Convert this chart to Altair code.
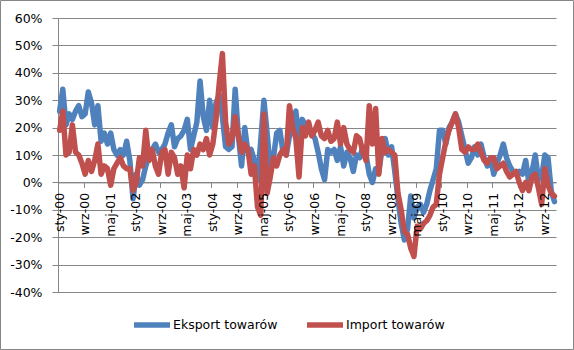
import altair as alt
import pandas as pd

# Monthly data, Jan 2000 (index 0) .. Dec 2012 (index 155), y/y change in %
EKSPORT = [
    26, 34, 21, 25, 23, 26, 28, 24, 25, 33, 29, 21,
    28, 15, 18, 14, 18, 12, 10, 12, 10, 15, 8, -6,
    3, -1, 1, 6, 10, 12, 14, 11, 12, 14, 18, 21,
    13, 16, 17, 19, 23, 12, 17, 22, 37, 24, 19, 30,
    20, 29, 32, 24, 13, 12, 13, 34, 17, 6, 20, 11,
    12, 8, 1, 15, 30, 18, 5, 9, 18, 19, 11, 10,
    17, 23, 26, 16, 23, 21, 19, 18, 16, 11, 5, 1,
    12, 11, 12, 8, 13, 6, 11, 9, 4, 10, 9, 13,
    10, 3, 0, 5, 4, 12, 16, 10, 13, 4, -6, -15,
    -21, -17, -5, -13, -9, -8, -11, -8, -3, 1, 5, 19,
    19, 14, 20, 22, 25, 22, 17, 12, 7, 9, 13, 10,
    14, 9, 6, 9, 3, 7, 10, 14, 9, 6, 4, 3,
    4, 3, 8, 0, 4, 10, 1, 2, 10, 9, -3, -7,
]
IMPORT = [
    19, 26, 10, 11, 21, 11, 10, 7, 3, 8, 4, 8,
    14, 3, 6, 5, -1, 5, 7, 9, 6, 5, 5, -3,
    0, 9, 6, 19, 8, 12, 6, 3, 11, 12, 3, 11,
    9, 3, 6, -2, 10, 5, 12, 10, 14, 12, 16, 10,
    14, 23, 36, 47, 22, 14, 16, 24, 17, 11, 14, 12,
    3, 6, -9, -12, 25, -4, 2, 9, 6, 10, 12, 10,
    28, 20, 16, 2, 20, 17, 22, 17, 19, 22, 17, 16,
    19, 15, 16, 22, 14, 20, 14, 12, 11, 17, 16, 11,
    8, 28, 14, 27, 3, 16, 11, 12, 11, 10, -4, -10,
    -18, -19, -24, -27, -16, -17, -15, -14, -12, -9, -8, 3,
    9, 15, 19, 22, 25, 20, 12, 11, 13, 12, 12, 14,
    11, 8, 7, 9, 9, 5, 6, 7, 4, 2, 3, 4,
    0, -3, 0, -3, 2, 3, -2, -8, 5, -1, -4, -5,
]
SERIES = ["Eksport towarów", "Import towarów"]
COLORS = ["#4F81BD", "#C0504D"]
TICK_LABELS = ["sty-00", "wrz-00", "maj-01", "sty-02", "wrz-02", "maj-03", "sty-04",
               "wrz-04", "maj-05", "sty-06", "wrz-06", "maj-07", "sty-08", "wrz-08",
               "maj-09", "sty-10", "wrz-10", "maj-11", "sty-12", "wrz-12"]
TICK_POS = [0, 8, 16, 24, 32, 40, 48, 56, 64, 72, 80, 88, 96, 104, 112, 120, 128, 136, 144, 152]
Y_TICKS = [-40, -30, -20, -10, 0, 10, 20, 30, 40, 50, 60]

N = len(EKSPORT)
rows = []
for s, vals in zip(SERIES, [EKSPORT, IMPORT]):
    for i, v in enumerate(vals):
        rows.append({"i": i, "v": v, "s": s})
df = pd.DataFrame(rows)
lab = pd.DataFrame({"p": TICK_POS, "t": TICK_LABELS})

FONT = "DejaVu Sans"
FS = 12.5
GRAY = "#868686"
W, H = 498, 274

xscale = alt.Scale(domain=[-0.5, N - 0.5], nice=False, zero=False)
yscale = alt.Scale(domain=[-40, 60], nice=False, zero=False)

xaxis = alt.Axis(values=[p - 0.5 for p in TICK_POS], labels=False, ticks=True, tickSize=5,
                 tickColor=GRAY, domainColor=GRAY, grid=False, title=None,
                 offset=-(H * 0.4))
yaxis = alt.Axis(values=Y_TICKS, labelExpr="datum.value + '%'", grid=True, gridColor=GRAY,
                 domainColor=GRAY, tickColor=GRAY, tickSize=6, labelPadding=10, title=None,
                 labelFont=FONT, labelFontSize=FS, labelColor="black", labelOverlap=False,
                 tickCount=11)

lines = alt.Chart(df).mark_line(strokeWidth=5.5, strokeCap="round", strokeJoin="round").encode(
    x=alt.X("i:Q", scale=xscale, axis=xaxis),
    y=alt.Y("v:Q", scale=yscale, axis=yaxis),
    color=alt.Color("s:N", scale=alt.Scale(domain=SERIES, range=COLORS),
                    legend=alt.Legend(orient="none", legendX=73, legendY=286,
                                      direction="horizontal", title=None,
                                      symbolType="stroke", symbolSize=1296,
                                      symbolStrokeWidth=5.5, labelOffset=0,
                                      columnPadding=18, labelFont=FONT,
                                      labelFontSize=FS, labelColor="black", padding=0)),
)

labels = alt.Chart(lab).mark_text(angle=270, align="right", baseline="middle", dx=-10.5,
                                  font=FONT, fontSize=FS, color="black").encode(
    x=alt.X("p:Q", scale=xscale, axis=xaxis),
    y=alt.YDatum(0, scale=yscale, axis=yaxis),
    text="t:N",
)

border = alt.Chart(pd.DataFrame({"a": [0]})).mark_rect(
    fillOpacity=0, stroke=GRAY, strokeWidth=1
).encode(x=alt.value(-57.5), x2=alt.value(515.5), y=alt.value(-17.5), y2=alt.value(331.5))

chart = alt.layer(border, lines, labels).properties(
    width=W, height=H,
    padding={"left": 58, "top": 18, "right": 18, "bottom": 58},
    autosize=alt.AutoSizeParams(type="none"),
    background="white",
).configure_view(strokeWidth=0)

chart.save("out.html", embed_options={"renderer": "svg", "actions": False})
